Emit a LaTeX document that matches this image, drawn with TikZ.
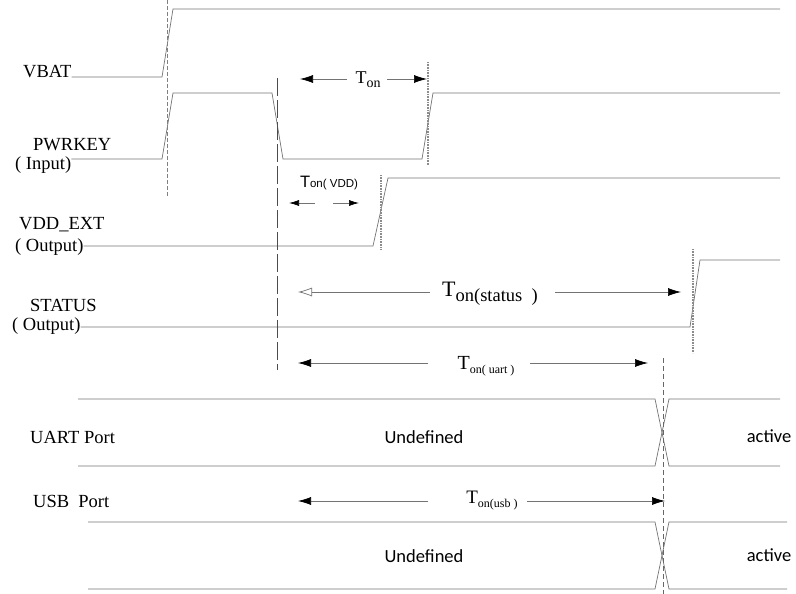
\documentclass[tikz,border=0pt]{standalone}
\usepackage{fontspec}
\setmainfont{Liberation Serif}
\newfontfamily\calfont{Carlito}
\newfontfamily\arialfont{Liberation Sans}
\usetikzlibrary{arrows.meta}
\newcommand{\Ton}[4]{{\fontsize{#1}{#1}\selectfont T}\raisebox{-#3}{\fontsize{#2}{#2}\selectfont #4}}
\begin{document}
\begin{tikzpicture}[x=1pt,y=-1pt,
	sig/.style={draw=black!55, line width=0.7pt},
	lbl/.style={inner sep=0pt, anchor=west, font=\fontsize{18.5}{18.5}\selectfont},
	word/.style={inner sep=0pt, font=\calfont\fontsize{18.5}{18.5}\selectfont},
	tlbl/.style={inner sep=0pt},
	arr/.style={draw=black!55, line width=0.7pt, -{Latex[length=13pt,width=8pt,color=black]}},
	smallarr/.style={draw=black!55, line width=0.7pt, -{Latex[length=10pt,width=6pt,color=black]}},
	openarr/.style={draw=black!55, line width=0.7pt, -{Latex[open,length=14pt,width=9pt]}},
	hatch/.style={draw=black!45, line width=2.2pt, dash pattern=on 0.8pt off 0.8pt},
	guide/.style={draw=black!60, line width=0.7pt, dash pattern=on 5pt off 3pt},
	longguide/.style={draw=black!70, line width=0.7pt, dash pattern=on 18pt off 4pt}]
	\useasboundingbox (0,0) rectangle (796,594);

	% the signal names
	\node[lbl] (vbat) at (23,72) {VBAT};
	\node[lbl] (pwrkey) at (33,145) {PWRKEY};
	\node[lbl] (input) at (15,165) {( Input)};
	\node[lbl] (vddext) at (19,225) {VDD\_EXT};
	\node[lbl] (vddout) at (15,247) {( Output)};
	\node[lbl] (status) at (30,305) {STATUS};
	\node[lbl] (statout) at (12,326) {( Output)};
	\node[lbl] (uart) at (30,437) {UART Port};
	\node[lbl] (usb) at (33,501) {USB\ \ Port};

	% the waveforms
	\draw[sig] (vbat.east |- 0,77) -- (162,77) -- (173,9) -- (780,9);
	\draw[sig] (input.east |- 0,159) -- (162,159) -- (173,93) -- (272,93) -- (283,159)
		-- (422,159) -- (433,93) -- (780,93);
	\draw[sig] (vddout.east |- 0,246) -- (373,246) -- (388,178) -- (780,178);
	\draw[sig] (statout.east |- 0,327) -- (690,327) -- (700,260) -- (780,260);

	% the ports
	\draw[sig] (78,399) -- (655,399) -- (669,466) -- (780,466);
	\draw[sig] (78,466) -- (655,466) -- (669,399) -- (780,399);
	\draw[sig] (88,522) -- (655,522) -- (669,589) -- (787,589);
	\draw[sig] (88,589) -- (655,589) -- (669,522) -- (787,522);
	\node[word] (undef1) at (424,437) {Undefined};
	\node[word] (undef2) at (424,556) {Undefined};
	\node[word] (act1) at (769,436) {active};
	\node[word] (act2) at (769,555) {active};

	% the marker lines
	\draw[guide, dash pattern=on 4pt off 2pt, draw=black!50] (167,0) -- (167,197);
	\draw[longguide] (277,78) -- (277,370);
	\draw[guide] (663,358) -- (663,594);
	\draw[hatch] (428,62) -- (428,165);
	\draw[hatch] (381,175) -- (381,250);
	\draw[hatch] (693,249) -- (693,353);

	% the timing texts
	\node[tlbl] (ton) at (368,80) {\Ton{18pt}{14pt}{4pt}{on}};
	\node[tlbl, font=\arialfont] (tonvdd) at (329,183) {\Ton{16.5pt}{11.5pt}{0pt}{on( VDD)}};
	\node[tlbl] (tonstat) at (490,294) {\Ton{22pt}{18.5pt}{5pt}{on(status\ \ )}};
	\node[tlbl] (tonuart) at (486,366) {\Ton{20pt}{12pt}{4pt}{on( uart )}};
	\node[tlbl] (tonusb) at (492,501) {\Ton{19pt}{12pt}{4pt}{on(usb )}};

	\coordinate (tonA) at (347,79);
	\coordinate (tonL) at (300,79);
	\coordinate (tonB) at (387,79);
	\coordinate (tonR) at (427,79);
	\coordinate (vddA) at (315,203);
	\coordinate (vddB) at (289,203);
	\coordinate (vddC) at (333,203);
	\coordinate (vddD) at (359,203);
	\coordinate (statA) at (430,292);
	\coordinate (statL) at (298,292);
	\coordinate (statB) at (555,292);
	\coordinate (statR) at (681,292);
	\coordinate (uartA) at (428,363);
	\coordinate (uartL) at (298,363);
	\coordinate (uartB) at (530,363);
	\coordinate (uartR) at (648,363);
	\coordinate (usbA) at (428,501);
	\coordinate (usbL) at (298,501);
	\coordinate (usbB) at (527,501);
	\coordinate (usbR) at (665,501);

	% draw the arrows
	\draw[arr] (tonA) -- (tonL);
	\draw[arr] (tonB) -- (tonR);
	\draw[smallarr] (vddA) -- (vddB);
	\draw[smallarr] (vddC) -- (vddD);
	\draw[openarr] (statA) -- (statL);
	\draw[arr] (statB) -- (statR);
	\draw[arr] (uartA) -- (uartL);
	\draw[arr] (uartB) -- (uartR);
	\draw[arr] (usbA) -- (usbL);
	\draw[arr] (usbB) -- (usbR);

\end{tikzpicture}
\end{document}
